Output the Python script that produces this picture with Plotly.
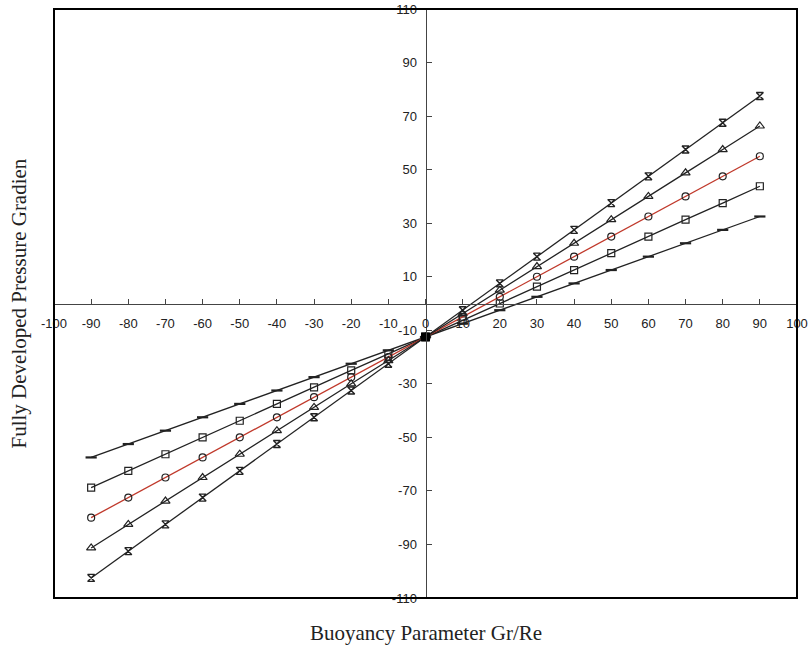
import plotly.graph_objects as go

x_vals = [-90, -80, -70, -60, -50, -40, -30, -20, -10, 0, 10, 20, 30, 40, 50, 60, 70, 80, 90]

s_dash = [-57.5, -52.5, -47.5, -42.5, -37.5, -32.5, -27.5, -22.5, -17.5, -12.5,
          -7.5, -2.5, 2.5, 7.5, 12.5, 17.5, 22.5, 27.5, 32.5]
s_square = [-68.8, -62.5, -56.3, -50.0, -43.8, -37.5, -31.3, -25.0, -18.8, -12.5,
            -6.3, 0.0, 6.3, 12.5, 18.8, 25.0, 31.3, 37.5, 43.8]
s_circle = [-80.0, -72.5, -65.0, -57.5, -50.0, -42.5, -35.0, -27.5, -20.0, -12.5,
            -5.0, 2.5, 10.0, 17.5, 25.0, 32.5, 40.0, 47.5, 55.0]
s_triangle = [-91.3, -82.5, -73.8, -65.0, -56.3, -47.5, -38.8, -30.0, -21.3, -12.5,
              -3.8, 5.0, 13.8, 22.5, 31.3, 40.0, 48.8, 57.5, 66.3]
s_x = [-102.5, -92.5, -82.5, -72.5, -62.5, -52.5, -42.5, -32.5, -22.5, -12.5,
       -2.5, 7.5, 17.5, 27.5, 37.5, 47.5, 57.5, 67.5, 77.5]

x_ticks = list(range(-100, 101, 10))
y_ticks = [-110, -90, -70, -50, -30, -10, 10, 30, 50, 70, 90, 110]

x_title = "Buoyancy Parameter Gr/Re"
y_title = "Fully Developed Pressure Gradien"

series = [
    (s_dash, "line-ew-open", 8, "#222222", 2.2),
    (s_square, "square-open", 7, "#222222", 1.2),
    (s_circle, "circle-open", 7, "#c0392b", 1.2),
    (s_triangle, "triangle-up-open", 8, "#222222", 1.2),
    (s_x, "hourglass-open", 7, "#222222", 1.4),
]

fig = go.Figure()
for ys, sym, size, lcol, mlw in series:
    fig.add_trace(go.Scatter(
        x=x_vals, y=ys, mode="lines+markers",
        line=dict(color=lcol, width=1.3),
        marker=dict(symbol=sym, size=size, color="#222222",
                    line=dict(color="#222222", width=mlw)),
        showlegend=False, hoverinfo="skip",
    ))

fig.add_trace(go.Scatter(x=[0], y=[-12.5], mode="markers",
                         marker=dict(symbol="square", size=9, color="black"),
                         showlegend=False, hoverinfo="skip"))

tick_font = dict(family="Liberation Sans, Arial, sans-serif", size=13, color="#222222")

fig.update_layout(
    width=812, height=649,
    margin=dict(l=54, r=15, t=9, b=51, autoexpand=False),
    paper_bgcolor="white", plot_bgcolor="white",
    xaxis=dict(range=[-100, 100], anchor="free", position=0.5, automargin=False,
               tickvals=x_ticks, ticktext=[str(v) for v in x_ticks],
               ticks="inside", ticklen=5, tickcolor="#444444",
               showline=True, linecolor="#444444", linewidth=1,
               showgrid=False, zeroline=False, tickfont=tick_font,
               ticklabelstandoff=8),
    yaxis=dict(range=[-110, 110], anchor="free", position=0.5, automargin=False,
               tickvals=y_ticks, ticktext=[str(v) for v in y_ticks],
               ticks="inside", ticklen=5, tickcolor="#444444",
               showline=True, linecolor="#444444", linewidth=1,
               showgrid=False, zeroline=False, tickfont=tick_font,
               ticklabelstandoff=6),
    shapes=[dict(type="rect", xref="paper", yref="paper", x0=0, y0=0, x1=1, y1=1,
                 line=dict(color="black", width=2))],
    annotations=[
        dict(text=x_title, xref="paper", yref="paper", x=0.5, y=0,
             yshift=-35, showarrow=False, yanchor="middle",
             font=dict(family="Liberation Serif, Times New Roman, serif", size=21, color="#222222")),
        dict(text=y_title, xref="paper", yref="paper", x=0, y=0.5,
             xshift=-36, textangle=-90, showarrow=False, xanchor="center",
             font=dict(family="Liberation Serif, Times New Roman, serif", size=21, color="#222222")),
    ],
)

fig.write_html("out.html")
